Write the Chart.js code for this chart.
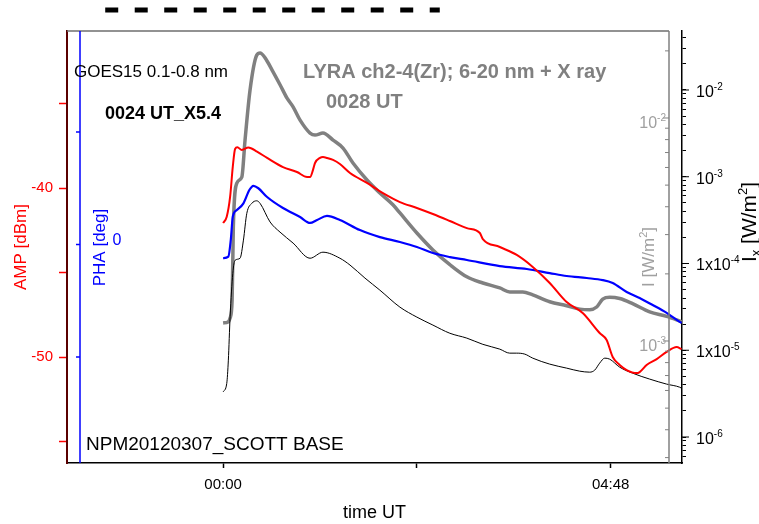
<!DOCTYPE html>
<html>
<head>
<meta charset="utf-8">
<script src="https://cdn.jsdelivr.net/npm/chart.js@4.4.1/dist/chart.umd.min.js"></script>
<style>
  html, body { margin: 0; padding: 0; background: #fff; }
  canvas { display: block; }
</style>
</head>
<body>
<canvas id="chart" width="759" height="524"></canvas>
<script>
// Time axis in minutes from 00:00 UT, 7 March 2012
const timeTicks = [0, 144, 288];
const timeTickLabels = ['00:00', '', '04:48'];

// NPM amplitude received at Scott Base (dBm)
const ampTime = [0, 2.7, 5.2, 7.2, 8.9, 10.6, 13.9, 18.8, 25.2, 32.7, 44.5, 54.9, 62.4, 64.6, 66.8, 68.3,
  72.0, 74.2, 77.2, 81.7, 86.8, 94.3, 106.9, 118.8, 131.4, 144.0, 155.9, 168.5, 181.1, 190.8, 193.0,
  205.6, 218.2, 230.1, 242.7, 255.3, 267.2, 279.8, 285.0, 289.5, 294.7, 299.9, 307.3, 309.5, 314.7,
  322.2, 329.6, 337.0, 340.7];
const ampDbm = [-42.07, -41.70, -40.53, -38.74, -37.69, -37.59, -37.75, -37.60, -37.85, -38.22, -38.76,
  -39.05, -39.35, -39.35, -38.93, -38.52, -38.22, -38.17, -38.22, -38.34, -38.58, -39.11, -39.70, -40.30,
  -40.83, -41.18, -41.54, -41.95, -42.37, -42.66, -43.02, -43.49, -43.96, -44.67, -45.62, -46.75, -47.40,
  -48.58, -48.99, -50.00, -50.47, -50.77, -50.95, -50.89, -50.47, -50.12, -49.70, -49.41, -49.53];

// NPM phase (deg)
const phaTime = [0, 3.9, 5.7, 7.2, 10.2, 15.1, 19.5, 22.5, 26.2, 32.7, 44.5, 57.2, 64.6, 69.8, 77.2, 86.8,
  101.7, 116.5, 131.4, 144.0, 155.9, 168.5, 181.1, 205.6, 225.7, 242.7, 255.3, 270.2, 282.1, 289.5, 299.9,
  309.5, 319.2, 329.6, 339.3, 340.7];
const phaDeg = [-6.1, -5.4, 2.0, 12.4, 15.3, 18.3, 24.2, 26.1, 25.0, 21.1, 16.2, 12.2, 9.6, 10.9, 12.7, 10.9,
  6.4, 3.3, 1.1, -1.1, -3.8, -5.6, -6.9, -9.6, -10.9, -12.7, -14.0, -14.9, -15.8, -17.1, -21.1,
  -23.8, -26.9, -30.4, -34.4, -34.9];

// GOES15 0.1-0.8 nm X-ray flux (W/m^2)
const goesTime = [0, 2.7, 3.9, 5.2, 7.2, 8.9, 12.6, 15.1, 17.6, 21.3, 25.0, 27.5, 34.9, 42.3, 52.0, 64.6,
  74.2, 86.8, 94.3, 105.4, 116.5, 131.4, 144.0, 155.9, 168.5, 181.1, 193.0, 205.6, 213.0, 218.2, 224.2,
  230.1, 242.7, 255.3, 265.0, 272.4, 276.1, 279.8, 283.6, 287.3, 294.7, 304.3, 317.0, 329.6, 339.3, 340.7];
const goesFlux = [3.31e-6, 4.14e-6, 7.69e-6, 2.43e-5, 7.67e-5, 1.09e-4, 1.15e-4, 1.86e-4, 3.78e-4, 4.93e-4,
  5.28e-4, 4.93e-4, 3.01e-4, 2.30e-4, 1.72e-4, 1.15e-4, 1.35e-4, 1.15e-4, 9.59e-5, 6.79e-5, 4.93e-5,
  3.14e-5, 2.41e-5, 1.95e-5, 1.57e-5, 1.38e-5, 1.17e-5, 1.03e-5, 9.26e-6, 9.26e-6, 9.02e-6, 8.11e-6,
  6.92e-6, 6.22e-6, 5.74e-6, 5.59e-6, 5.89e-6, 7.10e-6, 8.11e-6, 7.89e-6, 6.38e-6, 5.44e-6, 4.65e-6,
  4.07e-6, 3.75e-6, 3.65e-6];

// LYRA ch2-4 (Zr) irradiance (W/m^2)
const lyraTime = [0, 3.7, 5.2, 6.7, 7.6, 10.2, 13.9, 16.3, 20.0, 25.0, 27.5, 31.2, 36.4, 42.3, 47.5, 52.0,
  57.2, 64.6, 68.3, 74.2, 81.7, 89.1, 96.5, 106.9, 116.5, 126.2, 131.4, 144.0, 155.9, 168.5, 181.1, 193.0,
  205.6, 213.0, 222.7, 230.1, 242.7, 255.3, 265.0, 272.4, 277.6, 282.1, 287.3, 294.7, 304.3, 317.0, 329.6, 340.7];
const lyraIrr = [1.205e-3, 1.218e-3, 1.266e-3, 1.525e-3, 3.241e-3, 5.102e-3, 5.428e-3, 7.96e-3, 1.333e-2, 1.913e-2,
  1.956e-2, 1.860e-2, 1.640e-2, 1.410e-2, 1.228e-2, 1.122e-2, 9.78e-3, 8.56e-3, 8.39e-3, 8.56e-3, 7.96e-3,
  7.33e-3, 6.28e-3, 5.27e-3, 4.61e-3, 4.08e-3, 3.75e-3, 3.05e-3, 2.56e-3, 2.20e-3, 1.94e-3, 1.82e-3,
  1.73e-3, 1.66e-3, 1.66e-3, 1.61e-3, 1.50e-3, 1.44e-3, 1.39e-3, 1.38e-3, 1.42e-3, 1.54e-3, 1.57e-3,
  1.55e-3, 1.47e-3, 1.35e-3, 1.29e-3, 1.22e-3];

// Axis ticks
const ampTicks = [-55, -50, -45, -40, -35];
const ampLabelled = [-50, -40];
const phaTicks = [-50, 0, 50];
const phaLabelled = [0];
const goesLabelExp = [-2, -3, -4, -5, -6];
const goesLabelPrefix = ['10', '10', '1x10', '1x10', '10'];
const lyraLabelExp = [-2, -3];

// Time span of the bar drawn above the plot (minutes)
const barStart = -87.6;
const barEnd = 161;

const FONT = '"Liberation Sans", Arial, Helvetica, sans-serif';
Chart.defaults.font.family = FONT;

const zip = (xs, ys) => xs.map((x, i) => ({ x, y: ys[i] }));
const fontOf = p => `${p.bold ? 'bold ' : ''}${p.size}px ${FONT}`;

// Draw text made of runs (for super/subscripts), optionally rotated around (x, y)
function drawRuns(ctx, parts, x, y, opt) {
  const o = Object.assign({ align: 'left', rotate: 0, color: '#000', base: 0 }, opt || {});
  ctx.save();
  ctx.translate(x, y);
  if (o.rotate) ctx.rotate(o.rotate);
  ctx.fillStyle = o.color;
  ctx.textBaseline = 'alphabetic';
  ctx.textAlign = 'left';
  const widths = parts.map(p => { ctx.font = fontOf(p); return ctx.measureText(p.text).width; });
  const total = widths.reduce((s, w) => s + w, 0);
  let cx = o.align === 'right' ? -total : o.align === 'center' ? -total / 2 : 0;
  parts.forEach((p, i) => {
    ctx.font = fontOf(p);
    ctx.fillText(p.text, cx, o.base + (p.dy || 0));
    cx += widths[i];
  });
  ctx.restore();
}

function seg(ctx, x1, y1, x2, y2, color, width) {
  ctx.beginPath();
  ctx.strokeStyle = color;
  ctx.lineWidth = width;
  ctx.moveTo(x1, y1);
  ctx.lineTo(x2, y2);
  ctx.stroke();
}

function logTicks(min, max) {
  const out = [];
  for (let e = Math.floor(Math.log10(min)); e <= Math.ceil(Math.log10(max)); e++) {
    for (let m = 1; m <= 9; m++) {
      const v = m * Math.pow(10, e);
      if (v >= min && v <= max) out.push({ value: v, major: m === 1 });
    }
  }
  return out;
}

const GOES_MIN = Math.pow(10, -6.2997), GOES_MAX = Math.pow(10, -1.3199);
const LYRA_MIN = Math.pow(10, -3.5471), LYRA_MAX = Math.pow(10, -1.6099);

const overlay = {
  id: 'overlay',
  afterDraw(chart) {
    const { ctx, chartArea: a, scales } = chart;
    ctx.save();

    // top edge of the frame
    const grayX = a.right - 13;
    seg(ctx, a.left, a.top, grayX, a.top, '#6e6e6e', 1.5);

    // LYRA axis (inner right)
    const lyra = scales.lyra;
    seg(ctx, grayX, a.top, grayX, a.bottom, '#808080', 1.5);
    logTicks(LYRA_MIN, LYRA_MAX).forEach(t => {
      const y = lyra.getPixelForValue(t.value);
      seg(ctx, grayX - (t.major ? 6 : 4), y, grayX, y, '#808080', 1);
    });
    lyraLabelExp.forEach(e => {
      const y = lyra.getPixelForValue(Math.pow(10, e));
      drawRuns(ctx, [{ text: '10', size: 16 }, { text: String(e), size: 10, dy: -7 }],
        grayX - 3, y + 10.5, { align: 'right', color: '#a0a0a0' });
    });
    drawRuns(ctx, [{ text: 'I [W/m', size: 17 }, { text: '2', size: 11, dy: -7 }, { text: ']', size: 17 }],
      648, 257, { align: 'center', rotate: -Math.PI / 2, color: '#a0a0a0', base: 6 });

    // GOES axis labels (outer right)
    const goes = scales.goes;
    goesLabelExp.forEach((e, i) => {
      const y = goes.getPixelForValue(Math.pow(10, e));
      seg(ctx, a.right, y, a.right + 7, y, '#000', 1);
      drawRuns(ctx, [{ text: goesLabelPrefix[i], size: 16 }, { text: String(e), size: 10, dy: -7 }],
        a.right + 14, y + 7, { align: 'left', color: '#000' });
    });
    drawRuns(ctx, [
      { text: 'I', size: 21 }, { text: 'x', size: 13, dy: 4 }, { text: ' [W/m', size: 21 },
      { text: '2', size: 13, dy: -9 }, { text: ']', size: 21 }],
      748, 222, { align: 'center', rotate: -Math.PI / 2, color: '#000', base: 7.5 });

    // PHA axis (inner left)
    const pha = scales.pha;
    const blueX = a.left + 13;
    seg(ctx, blueX, a.top, blueX, a.bottom, '#0000ff', 1.5);
    phaTicks.forEach(v => {
      const y = pha.getPixelForValue(v);
      seg(ctx, blueX - 4, y, blueX, y, '#0000ff', 1.5);
    });
    ctx.fillStyle = '#0000ff';
    ctx.font = `16px ${FONT}`;
    ctx.textAlign = 'center';
    ctx.textBaseline = 'middle';
    phaLabelled.forEach(v => ctx.fillText(String(v), blueX + 37, pha.getPixelForValue(v) - 4));
    drawRuns(ctx, [{ text: 'PHA [deg]', size: 17 }], 99, 247.5,
      { align: 'center', rotate: -Math.PI / 2, color: '#0000ff', base: 6 });

    // bar above the plot
    const x = scales.x;
    ctx.beginPath();
    ctx.setLineDash([13, 16.5]);
    ctx.strokeStyle = '#000';
    ctx.lineWidth = 5;
    ctx.moveTo(x.getPixelForValue(barStart), 10);
    ctx.lineTo(x.getPixelForValue(barEnd), 10);
    ctx.stroke();
    ctx.setLineDash([]);

    // annotations
    ctx.textAlign = 'left';
    ctx.textBaseline = 'alphabetic';
    ctx.fillStyle = '#000';
    ctx.font = `17px ${FONT}`;
    ctx.fillText('GOES15 0.1-0.8 nm', 74, 77);
    ctx.font = `bold 18px ${FONT}`;
    ctx.fillText('0024 UT_X5.4', 105, 119);
    ctx.font = `19px ${FONT}`;
    ctx.fillText('NPM20120307_SCOTT BASE', 86, 450);
    ctx.fillStyle = '#808080';
    ctx.font = `bold 20px ${FONT}`;
    ctx.fillText('LYRA ch2-4(Zr); 6-20 nm + X ray', 303, 78);
    ctx.fillText('0028 UT', 326, 108);

    ctx.restore();
  }
};

const common = { pointRadius: 0, fill: false, cubicInterpolationMode: 'monotone', xAxisID: 'x' };

new Chart(document.getElementById('chart'), {
  type: 'line',
  data: {
    datasets: [
      Object.assign({ label: 'AMP', data: zip(ampTime, ampDbm), yAxisID: 'amp',
        borderColor: '#ff0000', borderWidth: 2, order: 0 }, common),
      Object.assign({ label: 'PHA', data: zip(phaTime, phaDeg), yAxisID: 'pha',
        borderColor: '#0000ff', borderWidth: 2.2, order: 1 }, common),
      Object.assign({ label: 'GOES15', data: zip(goesTime, goesFlux), yAxisID: 'goes',
        borderColor: '#000000', borderWidth: 1, order: 2 }, common),
      Object.assign({ label: 'LYRA', data: zip(lyraTime, lyraIrr), yAxisID: 'lyra',
        borderColor: '#808080', borderWidth: 3.5, order: 3 }, common)
    ]
  },
  options: {
    responsive: false,
    devicePixelRatio: 1,
    animation: false,
    layout: { padding: { top: 31, left: 0, right: 0, bottom: 0 } },
    plugins: { legend: { display: false }, tooltip: { enabled: false } },
    scales: {
      x: {
        type: 'linear', position: 'bottom', min: -116, max: 341,
        afterFit: s => { s.height = 61; },
        afterBuildTicks: s => { s.ticks = timeTicks.map(v => ({ value: v })); },
        ticks: {
          autoSkip: false, maxRotation: 0, padding: 8, color: '#000', font: { size: 15 },
          callback: v => { const i = timeTicks.indexOf(v); return i >= 0 ? timeTickLabels[i] : ''; }
        },
        grid: { drawOnChartArea: false, drawTicks: true, tickLength: 5, tickColor: '#000', tickWidth: 1.5 },
        border: { color: '#000', width: 1.5 },
        title: { display: true, text: 'time UT', color: '#000', font: { size: 18 }, padding: { top: 0, bottom: 0 } }
      },
      amp: {
        type: 'linear', position: 'left', min: -56.27, max: -30.71,
        afterFit: s => { s.width = 67; },
        afterBuildTicks: s => { s.ticks = ampTicks.map(v => ({ value: v })); },
        ticks: {
          autoSkip: false, padding: 6, color: '#ff0000', font: { size: 15 },
          callback: v => ampLabelled.includes(v) ? String(v) : ''
        },
        grid: { drawOnChartArea: false, drawTicks: true, tickLength: 8, tickColor: '#ff0000', tickWidth: 1.5 },
        border: { color: '#5a0000', width: 2 },
        title: { display: true, text: 'AMP [dBm]', color: '#ff0000', font: { size: 17 }, padding: { top: 11, bottom: 0 } }
      },
      goes: {
        type: 'logarithmic', position: 'right', min: GOES_MIN, max: GOES_MAX,
        afterFit: s => { s.width = 77; },
        afterBuildTicks: s => { s.ticks = logTicks(GOES_MIN, GOES_MAX); },
        ticks: { autoSkip: false, callback: () => '' },
        grid: { drawOnChartArea: false, drawTicks: true, tickLength: 4, tickColor: '#000', tickWidth: 1 },
        border: { color: '#000', width: 1.5 }
      },
      lyra: { type: 'logarithmic', display: false, min: LYRA_MIN, max: LYRA_MAX },
      pha: { type: 'linear', display: false, min: -97.11, max: 94.89 }
    }
  },
  plugins: [overlay]
});
</script>
</body>
</html>
